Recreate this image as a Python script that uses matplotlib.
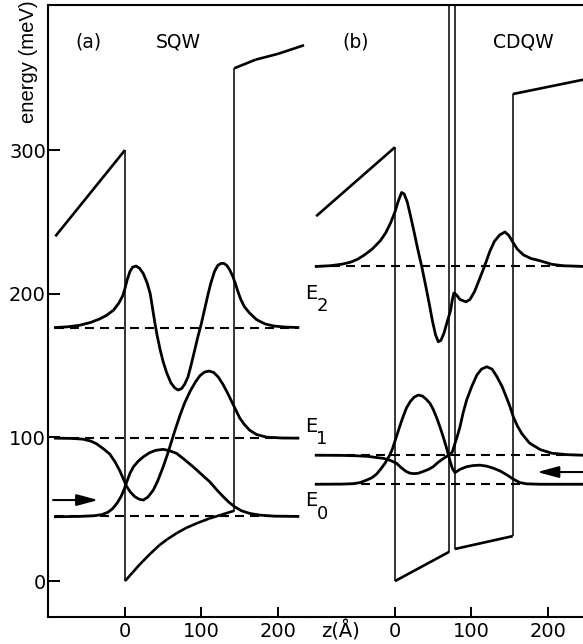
import numpy as np
import matplotlib.pyplot as plt

# ---------------- data (z in Angstrom, energy in meV) ----------------
# (a) single quantum well: conduction band edge
sqw_band_z = [-91, 0, 0, 10, 20, 33, 45, 55, 68, 80, 95, 110, 125, 143, 143, 171, 200, 234]
sqw_band_e = [240, 300, 0, 6, 12, 19, 25, 29, 33.5, 37, 40.5, 43.5, 46, 49, 357, 363, 367, 373]

sqw_levels = [45, 99.5, 176.5]         # E0, E1, E2
sqw_level_z = [-91, 226]

sqw_psi0_z = [-91, -60, -40, -30, -22, -16, -10, -5, -1, 3, 6.5, 11, 17, 24, 32, 40, 50, 58,
              67.5, 78, 89, 100, 111, 120, 128.5, 136, 144, 152, 163, 176.5, 195, 226]
sqw_psi0_e = [44.8, 45, 45.5, 46.3, 48, 50.5, 54.5, 59, 64, 70, 75, 79.5, 83.3, 86.5, 89.3, 91,
              91.7, 90.8, 88.9, 84.5, 79.6, 74.3, 69, 63.5, 58.7, 54.8, 51.5, 49, 47.1, 45.9,
              45.2, 45]

sqw_psi1_z = [-91, -70, -55, -45, -37, -28, -20, -13, -6.5, -2, 2, 7, 13, 18.5, 24, 30, 37, 43,
              50, 56, 61, 66, 72, 78, 85, 92, 98, 104, 110, 116, 122, 128, 134, 139, 144, 150,
              156, 163, 172, 185, 205, 226]
sqw_psi1_e = [99.5, 99.3, 98.8, 97.5, 95.5, 92, 88.5, 83, 76.5, 71, 66, 62, 58.7, 57, 56.4,
              58.5, 63.3, 70, 79.6, 89, 97.5, 106, 115.5, 124, 132, 138.5, 143, 145.5, 146.2,
              145.2, 142, 137, 131, 125.5, 120, 113.5, 109, 105, 102, 100.2, 99.6, 99.5]

sqw_psi2_z = [-91, -75, -60, -45, -33, -24, -15, -8, -3, 0, 3, 6.5, 10, 14.4, 19, 24, 29, 33,
              36, 39, 42, 46, 50, 54.5, 60, 65, 69.5, 74, 78, 82.4, 86, 91, 95, 99.7, 104,
              108.5, 112, 117, 121, 125, 129, 133, 137, 141, 144, 147, 151, 156, 163, 172,
              183, 195, 210, 226]
sqw_psi2_e = [176.5, 177, 178, 180, 182.5, 185, 188.6, 193.5, 198.5, 203.7, 210, 215.5, 218.5,
              219.3, 217.8, 214, 207.5, 200, 190, 180, 171, 161, 152.5, 145, 138, 134.5, 133,
              134, 137, 142.2, 149.5, 160.5, 169.5, 179, 189, 199.5, 207, 215.5, 219.5, 221,
              221.2, 219.8, 216.5, 212, 207.5, 202.5, 196.5, 191, 186.5, 182, 179, 177.5,
              176.8, 176.5]

# (b) coupled double quantum well: conduction band edge
cdqw_band_z = [-103, 0, 0, 71, 71, 78, 78, 154, 154, 246]
cdqw_band_e = [254, 302, 0, 20.4, 420, 420, 22.3, 31.3, 339, 349]

cdqw_levels = [67.4, 87.6, 219]        # E0, E1, E2
cdqw_level_z = [-103, 246]

cdqw_psi0_z = [-103, -70, -55, -46, -37, -30, -24, -19.6, -13, -6.5, -3, 0, 4, 8, 11, 15, 20,
               25, 30.5, 36, 41, 45.8, 50, 55, 59, 63, 67.5, 72, 75, 78.4, 85, 93.7, 102, 111,
               120, 128.5, 138, 146, 154.6, 163, 172, 190, 246]
cdqw_psi0_e = [67.4, 67.5, 67.8, 68.5, 70.3, 72, 74.5, 77.3, 82, 88, 92.5, 97.5, 104, 110.5,
               115, 120.5, 125, 128, 129.5, 128.8, 126.5, 123.7, 119.5, 113, 107, 100.5, 92.5,
               83.5, 78.5, 75.5, 77.8, 79.6, 80.4, 80.7, 80, 78.6, 76.5, 74, 71, 68.6, 67.7,
               67.4, 67.4]

cdqw_psi1_z = [-103, -70, -50, -35, -24, -15, -6, 2, 8, 14, 19, 24, 30, 37, 44, 50, 56, 62,
               67.5, 71, 75, 78.4, 81, 85, 89, 93.7, 100, 107, 113, 120, 127, 133, 140, 146,
               150, 154.6, 160, 166, 176, 190, 205, 225, 246]
cdqw_psi1_e = [87.6, 87.5, 87.2, 86.8, 86, 85.4, 84, 82, 79, 76.5, 75.2, 74.8, 75, 76.3, 77.8,
               79.6, 82.5, 84.8, 86.8, 87.6, 90, 95.8, 100, 107.4, 117, 126, 135, 143.4, 147.5,
               149.2, 147.5, 142.5, 135.5, 127.5, 122, 114.5, 108, 102.5, 96, 91.5, 89, 88,
               87.6]

cdqw_psi2_z = [-103, -85, -70, -58, -49, -40, -30, -19, -12, -6, 0, 4, 8.7, 12, 16, 20, 25, 30,
               35, 40, 45, 49, 53, 56.6, 60, 64, 68, 72.8, 75, 77, 80, 85, 92.8, 98, 104, 110,
               117.6, 124, 130, 137, 143.8, 149, 154, 160, 168, 178, 189.5, 205, 220, 246]
cdqw_psi2_e = [219, 219.5, 220.5, 222, 224, 227, 231, 237, 242.5, 249, 257, 264, 270.5, 269.5,
               264, 255, 243, 230.5, 219, 206, 192.5, 181, 171.5, 166.6, 167.5, 172.5, 180,
               188.6, 196, 200.5, 199.5, 196, 194.4, 196, 201.5, 209.5, 220, 229.5, 236.5, 241,
               243, 240.5, 236, 231, 227, 224.5, 223, 220.5, 219.5, 219]

xticks = [0, 100, 200]
yticks = [0, 100, 200, 300]

W, H = 583, 644


def px(x, y):
    # pixel position in the figure -> figure fraction
    return x / W, 1 - y / H


def draw_profile(ax, z, e):
    # vertical walls thin, sloped band edges thicker
    for i in range(len(z) - 1):
        lw = 1.1 if z[i] == z[i + 1] else 1.9
        ax.plot(z[i:i + 2], e[i:i + 2], color='k', lw=lw, solid_capstyle='butt')


def style_axis(ax):
    ax.set_ylim(-25, 401)
    ax.set_xticks(xticks)
    ax.tick_params(axis='x', direction='in', length=7, width=1.4, pad=3.5, labelsize=14)
    for s in ax.spines.values():
        s.set_linewidth(1.5)


fig = plt.figure(figsize=(W / 100, H / 100), dpi=100)
axL = fig.add_axes([48 / W, 27 / H, 260 / W, 612 / H])
axR = fig.add_axes([308 / W, 27 / H, 275 / W, 612 / H], sharey=axL)

### ~~~~~~~~~~~~~~~~~~~~ (a) SQW ~~~~~~~~~~~~~~~~~~~~ ###
style_axis(axL)
axL.set_xlim(-100.6, 239.2)
axL.spines['right'].set_visible(False)
axL.set_yticks(yticks)
axL.tick_params(axis='y', direction='in', length=8.5, width=1.4, pad=1.5, labelsize=14)

draw_profile(axL, sqw_band_z, sqw_band_e)
for lev in sqw_levels:
    axL.plot(sqw_level_z, [lev, lev], color='k', lw=1.5, dashes=(4.3, 2.9))
for zz, ee in [(sqw_psi0_z, sqw_psi0_e), (sqw_psi1_z, sqw_psi1_e), (sqw_psi2_z, sqw_psi2_e)]:
    axL.plot(zz, ee, color='k', lw=2.0, solid_joinstyle='round')

axL.annotate('', xy=(-35, 56.4), xytext=(-94, 56.4),
             arrowprops=dict(arrowstyle='-|>,head_length=1.3,head_width=0.35', lw=1.5,
                             color='k', mutation_scale=10, shrinkA=0, shrinkB=0))

### ~~~~~~~~~~~~~~~~~~~~ (b) CDQW ~~~~~~~~~~~~~~~~~~~~ ###
style_axis(axR)
axR.set_xlim(-113.7, 245.8)
axR.spines['left'].set_visible(False)
axR.spines['right'].set_visible(False)
axR.tick_params(axis='y', left=False, labelleft=False)

draw_profile(axR, cdqw_band_z, cdqw_band_e)
for lev in cdqw_levels:
    axR.plot(cdqw_level_z, [lev, lev], color='k', lw=1.5, dashes=(4.3, 2.9))
for zz, ee in [(cdqw_psi0_z, cdqw_psi0_e), (cdqw_psi1_z, cdqw_psi1_e), (cdqw_psi2_z, cdqw_psi2_e)]:
    axR.plot(zz, ee, color='k', lw=2.0, solid_joinstyle='round')

axR.annotate('', xy=(186, 75.9), xytext=(250, 75.9),
             arrowprops=dict(arrowstyle='-|>,head_length=1.3,head_width=0.35', lw=1.5,
                             color='k', mutation_scale=10, shrinkA=0, shrinkB=0))

### ~~~~~~~~~~~~~~~~~~~~ labels ~~~~~~~~~~~~~~~~~~~~ ###
fig.text(*px(88, 42), '(a)', fontsize=13.5, ha='center', va='center')
fig.text(*px(178, 42), 'SQW', fontsize=13.5, ha='center', va='center')
fig.text(*px(356, 42), '(b)', fontsize=13.5, ha='center', va='center')
fig.text(*px(523, 42), 'CDQW', fontsize=13.5, ha='center', va='center')

for name, sub, ey, sy in [('E', '2', 293, 306), ('E', '1', 427, 439), ('E', '0', 501, 514)]:
    fig.text(*px(311, ey), name, fontsize=14, ha='center', va='center')
    fig.text(*px(322, sy), sub, fontsize=13, ha='center', va='center')

fig.text(*px(28, 62), 'energy (meV)', rotation=90, fontsize=14.6,
         family='Liberation Sans', ha='center', va='center')
fig.text(*px(340, 631), 'z(Å)', fontsize=14, ha='center', va='center')

plt.savefig('out.png', dpi=100)
